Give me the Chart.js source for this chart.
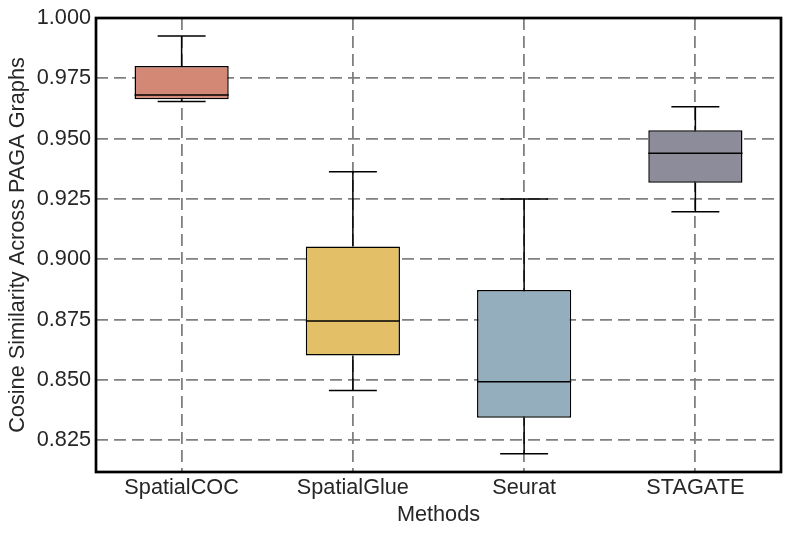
<!DOCTYPE html>
<html>
<head>
<meta charset="utf-8">
<script src="https://cdn.jsdelivr.net/npm/chart.js@4"></script>
<style>
  html, body { margin: 0; padding: 0; background: #fff; }
  #wrap { width: 791px; height: 534px; }
</style>
</head>
<body>
<div id="wrap"><canvas id="box_chart" width="791" height="534"></canvas></div>
<script>
// box plot stats
var methods = ["SpatialCOC", "SpatialGlue", "Seurat", "STAGATE"];
var lowerWhisker = [0.9654, 0.8456, 0.8194, 0.9197];
var q1 = [0.9663, 0.8601, 0.8343, 0.9317];
var median = [0.9681, 0.8744, 0.8492, 0.9439];
var q3 = [0.9801, 0.9053, 0.8873, 0.9535];
var upperWhisker = [0.9925, 0.9363, 0.9250, 0.9632];
var boxColors = ["#d38775", "#e3bf68", "#94aebd", "#8c8c9a"];
var yTicks = [0.825, 0.850, 0.875, 0.900, 0.925, 0.950, 0.975, 1.000];
var yMin = 0.8118;
var yMax = 1.0;

var textColor = "#262626";
var fontFamily = "'Liberation Sans', Arial, sans-serif";
var fontSize = 21.7;

var boxes = methods.map(function(m, i) {
    return [q1[i], q3[i]];
});

// whiskers, caps and medians, drawn through the chart scales
var whiskerPlugin = {
    id: "whiskers",
    afterDatasetsDraw: function(chart) {
        var ctx = chart.ctx;
        var xs = chart.scales.x;
        var ys = chart.scales.y;
        var catW = xs.getPixelForValue(1) - xs.getPixelForValue(0);
        var capHalf = catW * 0.14;
        var boxHalf = catW * 0.55 / 2;
        ctx.save();
        ctx.strokeStyle = "#000";
        ctx.lineWidth = 1.5;
        methods.forEach(function(m, i) {
            var x = xs.getPixelForValue(i);
            var yu = ys.getPixelForValue(upperWhisker[i]);
            var yl = ys.getPixelForValue(lowerWhisker[i]);
            var ym = ys.getPixelForValue(median[i]);
            ctx.beginPath();
            // whiskers
            ctx.moveTo(x, ys.getPixelForValue(q3[i]));
            ctx.lineTo(x, yu);
            ctx.moveTo(x, ys.getPixelForValue(q1[i]));
            ctx.lineTo(x, yl);
            // caps
            ctx.moveTo(x - capHalf, yu);
            ctx.lineTo(x + capHalf, yu);
            ctx.moveTo(x - capHalf, yl);
            ctx.lineTo(x + capHalf, yl);
            // median
            ctx.moveTo(x - boxHalf, ym);
            ctx.lineTo(x + boxHalf, ym);
            ctx.stroke();
        });
        ctx.restore();
    },
    afterDraw: function(chart) {
        var a = chart.chartArea;
        var ctx = chart.ctx;
        ctx.save();
        ctx.strokeStyle = "#000";
        ctx.lineWidth = 2.7;
        ctx.strokeRect(a.left, a.top, a.right - a.left, a.bottom - a.top);
        ctx.restore();
    }
};

var canvas = document.getElementById("box_chart");

new Chart(canvas, {
    type: "bar",
    data: {
        labels: methods,
        datasets: [{
            data: boxes,
            backgroundColor: boxColors,
            borderColor: "#000",
            borderWidth: 1.5,
            borderSkipped: false,
            categoryPercentage: 1.0,
            barPercentage: 0.55
        }]
    },
    options: {
        responsive: false,
        animation: false,
        layout: { padding: { top: 17, right: 10, left: 0, bottom: 0 } },
        plugins: {
            legend: { display: false },
            tooltip: { enabled: false }
        },
        scales: {
            x: {
                offset: true,
                grid: {
                    offset: false,
                    color: "#808080",
                    lineWidth: 1.8,
                    drawTicks: false
                },
                border: { display: false, dash: [12, 6] },
                ticks: {
                    padding: 3,
                    color: textColor,
                    font: { family: fontFamily, size: fontSize }
                },
                title: {
                    display: true,
                    text: "Methods",
                    color: textColor,
                    padding: { top: 0, bottom: 6 },
                    font: { family: fontFamily, size: fontSize }
                },
                afterFit: function(axis) { axis.height = 62; }
            },
            y: {
                min: yMin,
                max: yMax,
                grid: {
                    color: "#808080",
                    lineWidth: 1.8,
                    drawTicks: false
                },
                border: { display: false, dash: [12, 6] },
                afterBuildTicks: function(axis) {
                    axis.ticks = yTicks.map(function(v) { return { value: v }; });
                },
                ticks: {
                    padding: 5,
                    color: textColor,
                    font: { family: fontFamily, size: fontSize },
                    callback: function(v) { return Number(v).toFixed(3); }
                },
                title: {
                    display: true,
                    text: "Cosine Similarity Across PAGA Graphs",
                    color: textColor,
                    padding: { top: 5, bottom: 0 },
                    font: { family: fontFamily, size: fontSize }
                },
                afterFit: function(axis) { axis.width = 96; }
            }
        }
    },
    plugins: [whiskerPlugin]
});
</script>
</body>
</html>
